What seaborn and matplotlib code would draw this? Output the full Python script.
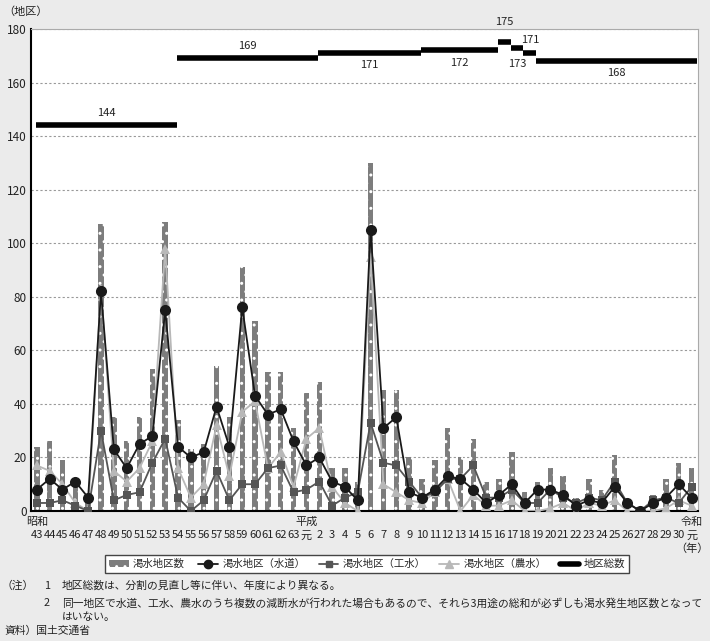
import itertools
import numpy as np
import pandas as pd
import matplotlib
matplotlib.use('Agg')
import matplotlib.pyplot as plt
from matplotlib.lines import Line2D
from matplotlib.patches import Patch
import seaborn as sns

# 年（昭和43年～令和元年）
years = ['43', '44', '45', '46', '47', '48', '49', '50', '51', '52', '53', '54',
         '55', '56', '57', '58', '59', '60', '61', '62', '63', '元', '2', '3',
         '4', '5', '6', '7', '8', '9', '10', '11', '12', '13', '14', '15', '16',
         '17', '18', '19', '20', '21', '22', '23', '24', '25', '26', '27', '28',
         '29', '30', '元']
eras = ['昭和', '平成', '令和']
era_pos = [0, 21, 51]

drought_all = [24, 26, 19, 11, 5, 107, 35, 26, 35, 53, 108, 34, 23, 25, 54, 35,
               91, 71, 52, 52, 31, 44, 48, 16, 16, 11, 130, 45, 45, 20, 12, 19,
               31, 20, 27, 11, 12, 22, 7, 11, 16, 13, 5, 12, 8, 21, 4, 0, 6, 12,
               18, 16]
water_supply = [8, 12, 8, 11, 5, 82, 23, 16, 25, 28, 75, 24, 20, 22, 39, 24,
                76, 43, 36, 38, 26, 17, 20, 11, 9, 4, 105, 31, 35, 7, 5, 8, 13,
                12, 8, 3, 6, 10, 3, 8, 8, 6, 2, 4, 3, 9, 3, 0, 3, 5, 10, 5]
industrial = [3, 3, 4, 2, 0, 30, 4, 6, 7, 18, 27, 5, 0, 4, 15, 4, 10, 10, 16,
              17, 7, 8, 11, 2, 5, 7, 33, 18, 17, 11, 5, 7, 12, 12, 17, 5, 5, 8,
              3, 3, 8, 5, 3, 5, 4, 11, 3, 0, 4, 5, 3, 9]
agricultural = [17, 15, 10, 3, 0, 83, 15, 11, 16, 26, 98, 16, 5, 10, 32, 13,
                37, 41, 16, 22, 9, 27, 31, 9, 3, 0, 95, 10, 7, 4, 3, 7, 12, 0,
                6, 2, 2, 4, 0, 0, 1, 3, 0, 3, 2, 4, 0, 0, 0, 1, 4, 2]
district_total = [144] * 11 + [169] * 11 + [171] * 8 + [172] * 6 + [175, 173, 171] + [168] * 13

df = pd.DataFrame({'idx': np.arange(len(years)), 'all': drought_all,
                   'water': water_supply, 'ind': industrial, 'agr': agricultural})

sns.set_style('white')
plt.rcParams['font.family'] = ['Noto Sans CJK JP', 'DejaVu Sans']
plt.rcParams['hatch.color'] = 'white'
plt.rcParams['hatch.linewidth'] = 1.0

fig = plt.figure(figsize=(7.1, 6.41), dpi=100, facecolor='#ebebeb')
ax = fig.add_axes([0.0437, 0.2028, 0.9394, 0.752])
ax.set_facecolor('white')

bar_col = '#7d7d7d'
sns.barplot(data=df, x='idx', y='all', color=bar_col, width=0.42, ax=ax,
            saturation=1, edgecolor='white', linewidth=0, hatch='..', zorder=2)

sns.lineplot(data=df, x='idx', y='agr', color='#b8b8b8', marker='^', markersize=7,
             markeredgewidth=0, linewidth=1.3, ax=ax, zorder=3)
sns.lineplot(data=df, x='idx', y='ind', color='#555555', marker='s', markersize=6,
             markeredgewidth=0, linewidth=1.3, ax=ax, zorder=4)
sns.lineplot(data=df, x='idx', y='water', color='#1a1a1a', marker='o', markersize=8,
             markeredgewidth=0, linewidth=1.3, ax=ax, zorder=5)

# 地区総数（年ごとの段）
label_off = [12, 12, -12, -13, 20, -16, 13, -12]
pos = 0
for k, (val, grp) in enumerate(itertools.groupby(district_total)):
    n = len(list(grp))
    x0, x1 = pos - 0.1, pos + n - 0.1
    if pos + n == len(district_total):
        x1 = pos + n - 0.55
    ax.hlines(val, x0, x1, color='black', linewidth=4, zorder=6)
    ax.annotate(str(val), xy=((x0 + x1) / 2, val), xytext=(0, label_off[k]),
                textcoords='offset pixels', ha='center', va='center',
                fontsize=8, color='#222222', annotation_clip=False)
    pos += n

ax.set_xlim(-0.45, len(years) - 0.5)
ax.set_ylim(0, 180)
ax.set_yticks(range(0, 181, 20))
ax.set_xticks(range(len(years)))
ax.set_xticklabels(years)
ax.tick_params(axis='x', length=0, pad=14, labelsize=8, colors='#222222')
ax.tick_params(axis='y', length=0, pad=3, labelsize=8.5, colors='#222222')
ax.set_xlabel('')
ax.set_ylabel('')
ax.yaxis.grid(True, linestyle=(0, (2, 2)), color='#999999', linewidth=0.8)
ax.set_axisbelow(True)
for s in ['top', 'right']:
    ax.spines[s].set_color('#aaaaaa')
    ax.spines[s].set_linewidth(0.8)
for s in ['left', 'bottom']:
    ax.spines[s].set_color('black')
    ax.spines[s].set_linewidth(1.5)

for name, p in zip(eras, era_pos):
    ax.annotate(name, xy=(p, 0), xycoords=('data', 'axes fraction'),
                xytext=(0, -11), textcoords='offset pixels', ha='center',
                va='center', fontsize=8, color='#222222')
ax.annotate('（年）', xy=(len(years) - 1, 0), xycoords=('data', 'axes fraction'),
            xytext=(0, -38), textcoords='offset pixels', ha='center',
            va='center', fontsize=8, color='#222222')
fig.text(0.005, 0.982, '（地区）', fontsize=8, color='#222222', va='center')

handles = [
    Patch(facecolor=bar_col, edgecolor='white', hatch='..', linewidth=0),
    Line2D([], [], color='#1a1a1a', marker='o', markersize=6, linewidth=1.3),
    Line2D([], [], color='#555555', marker='s', markersize=5, linewidth=1.3),
    Line2D([], [], color='#b8b8b8', marker='^', markersize=6, linewidth=1.3),
    Line2D([], [], color='black', linewidth=4),
]
labels = ['渇水地区数', '渇水地区（水道）', '渇水地区（工水）', '渇水地区（農水）', '地区総数']
fig.legend(handles, labels, loc='center', bbox_to_anchor=(367 / 710, 1 - 564 / 641),
           ncol=5, fontsize=7.5, frameon=True, fancybox=False, edgecolor='#444444',
           handlelength=1.9, handleheight=0.6, handletextpad=0.4, columnspacing=1.3,
           borderpad=0.35, framealpha=1)

notes = [
    (2, 586, '（注）'),
    (44, 586, '1'),
    (62, 586, '地区総数は、分割の見直し等に伴い、年度により異なる。'),
    (44, 603, '2'),
    (62, 603, '同一地区で水道、工水、農水のうち複数の減断水が行われた場合もあるので、それら3用途の総和が必ずしも渇水発生地区数となって'),
    (62, 617, 'はいない。'),
    (4, 631, '資料）国土交通省'),
]
for x, y, t in notes:
    fig.text(x / 710, 1 - y / 641, t, fontsize=7.75, color='#222222', va='center')

fig.savefig('out.png', dpi=100, facecolor=fig.get_facecolor())
